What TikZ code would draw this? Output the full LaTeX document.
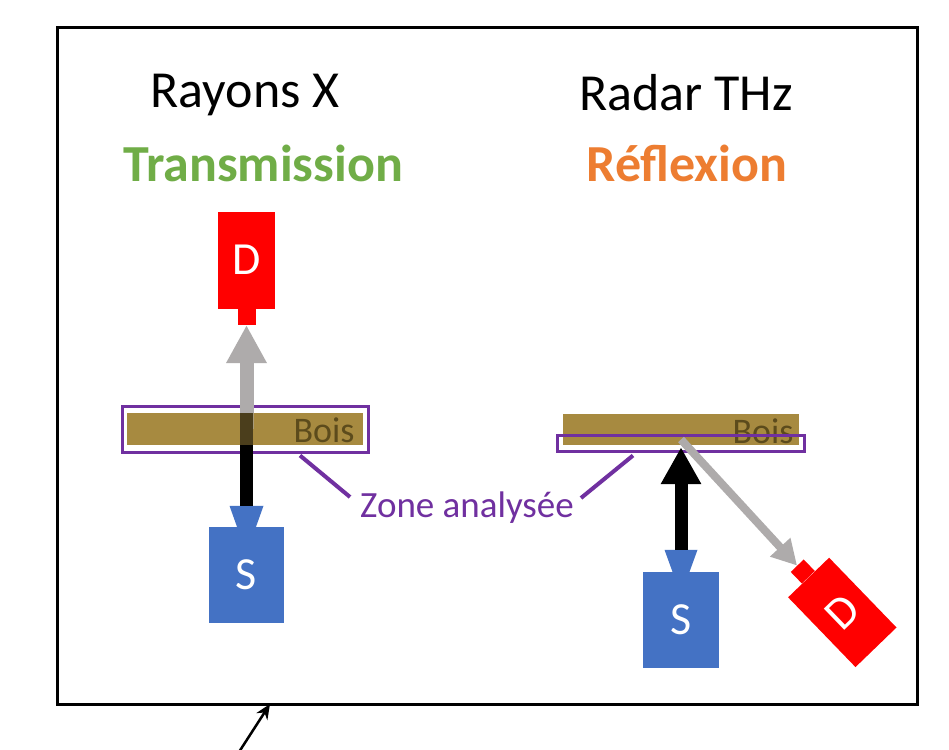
\documentclass[tikz,border=0pt]{standalone}
\usepackage{fontspec}
\setmainfont{Carlito}
\usetikzlibrary{arrows.meta}
\definecolor{tgreen}{RGB}{112,173,71}
\definecolor{torange}{RGB}{237,125,49}
\definecolor{dred}{RGB}{255,0,0}
\definecolor{sblue}{RGB}{68,114,196}
\definecolor{zpurple}{RGB}{112,48,160}
\definecolor{woodc}{RGB}{167,138,64}
\definecolor{boistxt}{RGB}{92,75,28}
\definecolor{raygray}{RGB}{174,171,171}
\tikzset{
  title/.style={font=\fontsize{52}{60}\selectfont, inner sep=0pt},
  mode/.style={font=\bfseries\fontsize{52}{60}\selectfont, inner sep=0pt},
  dbody/.style={fill=dred, text=white, minimum width=57pt, minimum height=97pt, inner sep=0pt, font=\fontsize{46}{50}\selectfont},
  dstub/.style={fill=dred, minimum width=18pt, minimum height=16pt, inner sep=0pt},
  sbody/.style={fill=sblue, text=white, minimum width=75pt, minimum height=96pt, inner sep=0pt, font=\fontsize{46}{50}\selectfont},
  woodbar/.style={fill=woodc, inner sep=0pt},
  zonebox/.style={draw=zpurple, line width=3pt, inner sep=0pt},
  boislbl/.style={text=boistxt, font=\fontsize{36}{40}\selectfont, inner sep=0pt},
  leader/.style={draw=zpurple, line width=4pt},
  beam/.style={line width=13pt},
}
\begin{document}
\begin{tikzpicture}[x=1pt,y=-1pt]
\useasboundingbox (0,0) rectangle (949,749);
\fill[white] (0,0) rectangle (949,749);
% outer frame
\node[draw, line width=3pt, minimum width=860pt, minimum height=676pt, inner sep=0pt] (frame) at (487,366) {};
\coordinate (ptrtail) at (239,752);
\coordinate (ptrtip) at (270,704);
\draw[line width=2.5pt, -{Stealth[length=15pt,width=13pt]}] (ptrtail) -- (ptrtip);

% titles
\node[title] (rx) at (245,95) {Rayons X};
\node[mode, text=tgreen] (trans) at (263,163) {Transmission};
\node[title] (rthz) at (686,93) {Radar THz};
\node[mode, text=torange] (refl) at (687,163) {Réflexion};

% ---------- left: transmission ----------
\node[zonebox, minimum width=246pt, minimum height=46pt] (Zl) at (245,429) {};
\node[woodbar, minimum width=236pt, minimum height=32pt] (Wl) at (245,429) {};
\node[dbody] (Dl) at (246.5,260) {D};
\node[dstub, anchor=north] (Dls) at (Dl.south) {};
\node[sbody] (Sl) at (246.5,575) {S};
\coordinate (Slt) at ([yshift=21pt]Sl.north);
\fill[sblue] ([xshift=-9.5pt]Sl.north) -- ([xshift=9.5pt]Sl.north) -- ([xshift=17pt]Slt) -- ([xshift=-17pt]Slt) -- cycle;
\draw[raygray, line width=14pt, -{Triangle[length=38pt,width=38pt]}] (Dls.south |- Wl.center) -- (Dls.south);
\draw[beam, black] (Slt) -- (Slt |- Wl.north);
\fill[woodc, opacity=0.45] (Wl.north west) rectangle (Wl.south east);
\node[boislbl] (bl) at (324,430) {Bois};

% ---------- right: reflection ----------
\node[woodbar, minimum width=236pt, minimum height=31pt] (Wr) at (681,429.5) {};
\node[boislbl] (br) at (763,431) {Bois};
\node[zonebox, minimum width=247pt, minimum height=16pt] (Zr) at (680.5,443) {};
\node[sbody, minimum width=76pt] (Sr) at (681,620) {S};
\coordinate (Srt) at ([yshift=22pt]Sr.north);
\fill[sblue] ([xshift=-8.5pt]Sr.north) -- ([xshift=8.5pt]Sr.north) -- ([xshift=16.5pt]Srt) -- ([xshift=-16.5pt]Srt) -- cycle;
\draw[beam, black, -{Triangle[length=37pt,width=38pt]}] (Srt) -- ([yshift=-2pt]Wr.south);
\node[dbody, rotate=44] (Dr) at (842.3,612.4) {D};
\node[dstub, rotate=44, anchor=south] (Drs) at (Dr.north) {};
\draw[raygray, line width=8pt, -{Triangle[length=25pt,width=26pt]}] ([yshift=-10pt]Wr.center) -- (Drs.north);

% zone label and leaders
\node[text=zpurple, font=\fontsize{37}{40}\selectfont, inner sep=0pt] (za) at (467,508) {Zone analysée};
\draw[leader] ([xshift=55pt,yshift=-2pt]Zl.south) -- ([xshift=-10pt,yshift=11pt]za.west);
\draw[leader] ([xshift=-47.5pt,yshift=-3pt]Zr.south) -- ([xshift=7pt,yshift=10pt]za.east);
\end{tikzpicture}
\end{document}
